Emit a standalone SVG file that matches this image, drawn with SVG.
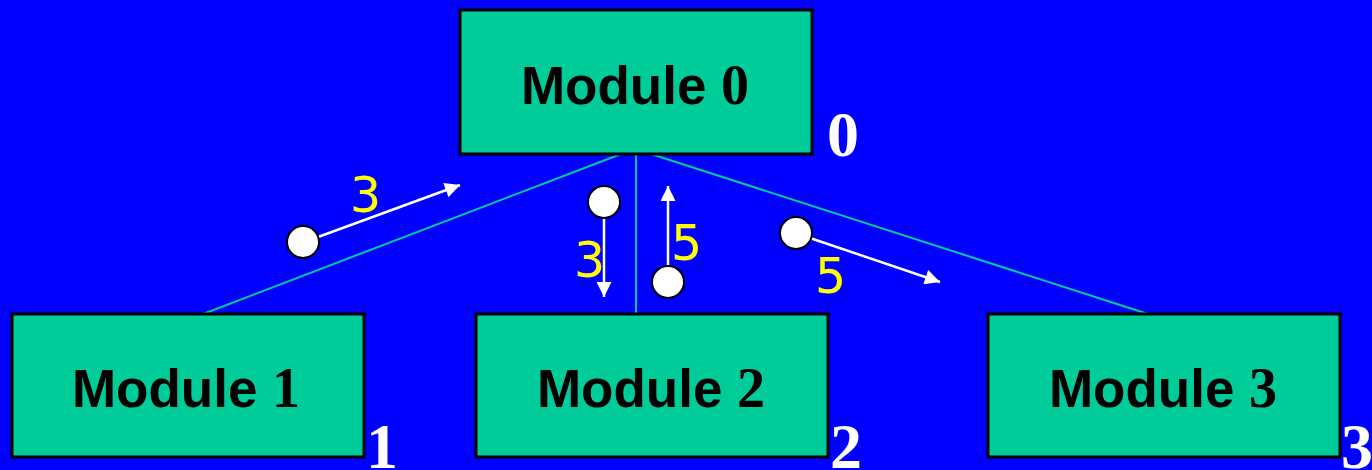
<svg xmlns="http://www.w3.org/2000/svg" width="1372" height="470" viewBox="0 0 1372 470">
<style>
.box{fill:#00CC99;stroke:#000;stroke-width:3}
.mt{font-family:"Liberation Sans",Arial,sans-serif;font-weight:bold;font-size:53px;fill:#000;text-anchor:middle}
.dg{font-family:"Liberation Serif","Times New Roman",serif;font-weight:bold;font-size:56px}
.idx{font-family:"Liberation Serif","Times New Roman",serif;font-weight:bold;font-size:64px;fill:#fff}
.link{stroke:#00CC99;stroke-width:2;fill:none}
.msg{stroke:#fff;stroke-width:2.5;fill:none}
.tok{fill:#fff;stroke:#000;stroke-width:2}
.num{font-family:"DejaVu Sans",Verdana,sans-serif;font-size:49px;fill:#FFFF00}
</style>
<defs>
<marker id="ah" viewBox="0 0 10 10" refX="10" refY="5" markerWidth="16" markerHeight="15" markerUnits="userSpaceOnUse" orient="auto">
<path d="M0,0 L10,5 L0,10 z" fill="#fff"/>
</marker>
</defs>
<rect width="1372" height="470" fill="#0000FF"/>
<g id="connectors">
<line class="link" x1="621" y1="154" x2="203" y2="314"/>
<line class="link" x1="636" y1="154" x2="636" y2="314"/>
<line class="link" x1="651" y1="154" x2="1148" y2="314"/>
</g>
<g id="module0">
<rect class="box" x="460" y="10" width="352" height="144"/>
<text class="mt" x="635" y="104">Module <tspan class="dg">0</tspan></text>
<text class="idx" x="827" y="156">0</text>
</g>
<g id="module1">
<rect class="box" x="12" y="314" width="352" height="143"/>
<text class="mt" x="186" y="407">Module <tspan class="dg">1</tspan></text>
<text class="idx" x="366" y="468">1</text>
</g>
<g id="module2">
<rect class="box" x="476" y="314" width="352" height="143"/>
<text class="mt" x="651" y="407">Module <tspan class="dg">2</tspan></text>
<text class="idx" x="830" y="468">2</text>
</g>
<g id="module3">
<rect class="box" x="988" y="314" width="352" height="143"/>
<text class="mt" x="1163" y="407">Module <tspan class="dg">3</tspan></text>
<text class="idx" x="1341" y="468">3</text>
</g>
<g id="messages">
<line class="msg" x1="318" y1="237" x2="460" y2="185" marker-end="url(#ah)"/>
<circle class="tok" cx="303" cy="242" r="16"/>
<text class="num" x="350" y="212">3</text>
<line class="msg" x1="604" y1="218" x2="604" y2="297" marker-end="url(#ah)"/>
<circle class="tok" cx="604" cy="202" r="16"/>
<text class="num" x="574" y="277">3</text>
<line class="msg" x1="668" y1="266" x2="668" y2="186" marker-end="url(#ah)"/>
<circle class="tok" cx="668" cy="282" r="16"/>
<text class="num" x="671" y="260">5</text>
<line class="msg" x1="810" y1="238" x2="940" y2="282" marker-end="url(#ah)"/>
<circle class="tok" cx="796" cy="233" r="16"/>
<text class="num" x="815" y="293">5</text>
</g>
</svg>
